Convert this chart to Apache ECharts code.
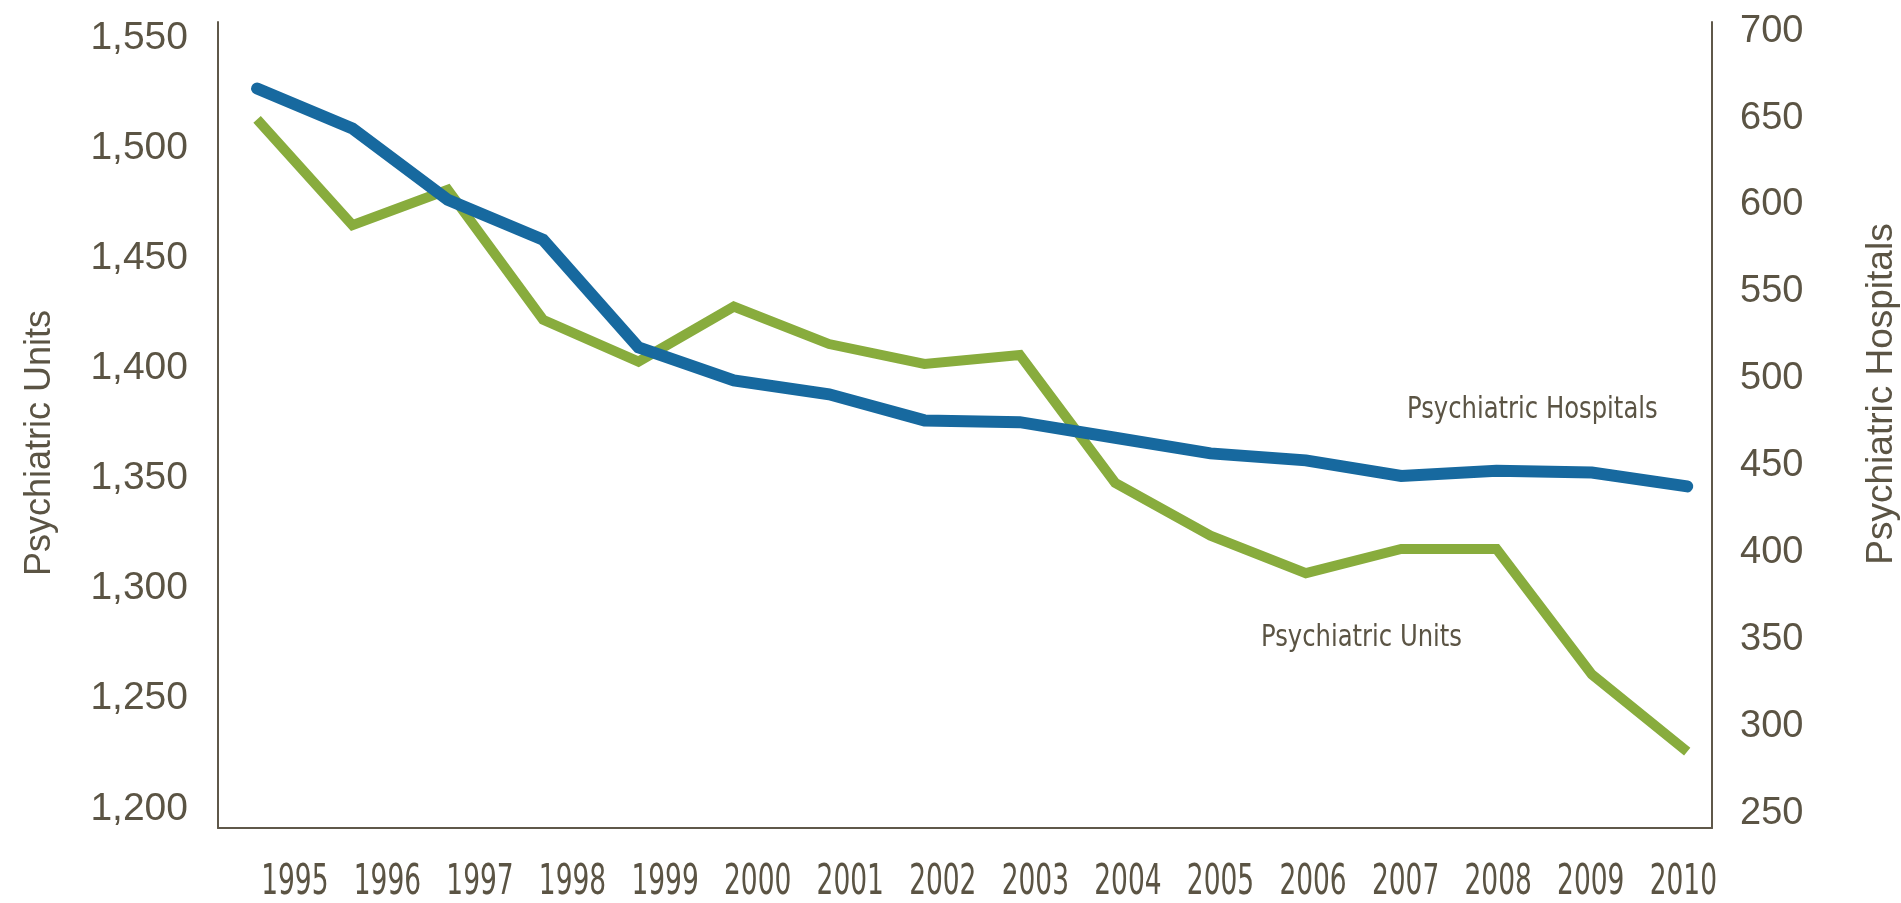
<!DOCTYPE html>
<html>
<head>
<meta charset="utf-8">
<script src="https://cdn.jsdelivr.net/npm/echarts@6/dist/echarts.min.js"></script>
<style>
  html, body { margin: 0; padding: 0; background: #ffffff; }
  #chart { width: 1901px; height: 903px; }
</style>
</head>
<body>
<div id="chart"></div>
<script>
// Years on the horizontal axis
const years = [1995, 1996, 1997, 1998, 1999, 2000, 2001, 2002, 2003, 2004, 2005, 2006, 2007, 2008, 2009, 2010];

// Psychiatric units (left axis)
const psychiatricUnits = [1513, 1465, 1481, 1422, 1403, 1428, 1411, 1402, 1406, 1348, 1324, 1307, 1318, 1318, 1261, 1226];

// Psychiatric hospitals (right axis)
const psychiatricHospitals = [667, 644, 603, 580, 518, 499, 491, 476, 475, 466, 457, 453, 444, 447, 446, 438];

// Tick labels
const leftTicks = [1200, 1250, 1300, 1350, 1400, 1450, 1500, 1550];
const rightTicks = [250, 300, 350, 400, 450, 500, 550, 600, 650, 700];

const textColor = '#5b5444';
const axisColor = '#5f584a';
const blue = '#17699f';
const green = '#88ac3d';
const condensed = '"DejaVu Sans Condensed", "Liberation Sans Narrow", sans-serif';
const plain = '"Liberation Sans", Arial, sans-serif';

const chart = echarts.init(document.getElementById('chart'), null, { renderer: 'canvas' });

const unitsData = years.map((y, i) => [y, psychiatricUnits[i]]);
const hospitalsData = years.map((y, i) => [y, psychiatricHospitals[i]]);

chart.setOption({
  animation: false,
  backgroundColor: '#ffffff',
  grid: { left: 218, right: 189, top: 22, bottom: 75, containLabel: false },
  xAxis: [
    {
      type: 'value',
      min: 1994.59,
      max: 2010.26,
      axisLine: { show: true, onZero: false, lineStyle: { color: axisColor, width: 2 } },
      axisTick: { show: false },
      axisLabel: { show: false },
      splitLine: { show: false }
    },
    {
      // positions of the year labels along the bottom
      type: 'value',
      position: 'bottom',
      min: 1994.17,
      max: 2010.31,
      axisLine: { show: false },
      axisTick: { show: false },
      splitLine: { show: false },
      axisLabel: { show: false }
    }
  ],
  yAxis: [
    {
      type: 'value',
      position: 'left',
      min: 1191.3,
      max: 1557.2,
      axisLine: { show: true, onZero: false, lineStyle: { color: axisColor, width: 2 } },
      axisTick: { show: false },
      splitLine: { show: false },
      axisLabel: {
        customValues: leftTicks,
        formatter: v => v.toLocaleString('en-US'),
        color: textColor,
        fontFamily: plain,
        fontSize: 39,
        margin: 30
      }
    },
    {
      type: 'value',
      position: 'right',
      min: 241.4,
      max: 705.3,
      axisLine: { show: true, onZero: false, lineStyle: { color: axisColor, width: 2 } },
      axisTick: { show: false },
      splitLine: { show: false },
      axisLabel: {
        customValues: rightTicks,
        formatter: v => String(v),
        color: textColor,
        fontFamily: plain,
        fontSize: 38,
        margin: 28
      }
    }
  ],
  series: [
    {
      name: 'Psychiatric Units',
      type: 'line',
      xAxisIndex: 0,
      yAxisIndex: 0,
      data: unitsData,
      symbol: 'none',
      lineStyle: { color: green, width: 10, cap: 'butt', join: 'miter' },
      z: 2
    },
    {
      name: 'Psychiatric Hospitals',
      type: 'line',
      xAxisIndex: 0,
      yAxisIndex: 1,
      data: hospitalsData,
      symbol: 'none',
      lineStyle: { color: blue, width: 12, cap: 'round', join: 'miter' },
      z: 3
    }
  ]
});

// Year labels in a tall condensed face, placed through the label axis
const yearLabels = years.map(y => {
  const px = chart.convertToPixel({ xAxisIndex: 1 }, y);
  return {
    type: 'text',
    x: px, y: 883, scaleX: 0.7, scaleY: 1,
    style: {
      text: String(y), fill: textColor,
      font: '42px ' + condensed,
      align: 'center', verticalAlign: 'middle'
    }
  };
});

chart.setOption({
  graphic: yearLabels.concat([
    {
      type: 'text',
      x: 40, y: 443, rotation: Math.PI / 2,
      style: {
        text: 'Psychiatric Units', fill: textColor,
        font: '36px ' + plain,
        align: 'center', verticalAlign: 'middle'
      }
    },
    {
      type: 'text',
      x: 1882, y: 394, rotation: Math.PI / 2,
      style: {
        text: 'Psychiatric Hospitals', fill: textColor,
        font: '37px ' + plain,
        align: 'center', verticalAlign: 'middle'
      }
    },
    {
      type: 'text',
      x: 1407, y: 410, scaleX: 0.9,
      style: {
        text: 'Psychiatric Hospitals', fill: textColor,
        font: '30px ' + condensed,
        align: 'left', verticalAlign: 'middle'
      }
    },
    {
      type: 'text',
      x: 1261, y: 638, scaleX: 0.9,
      style: {
        text: 'Psychiatric Units', fill: textColor,
        font: '30px ' + condensed,
        align: 'left', verticalAlign: 'middle'
      }
    }
  ])
});
</script>
</body>
</html>
